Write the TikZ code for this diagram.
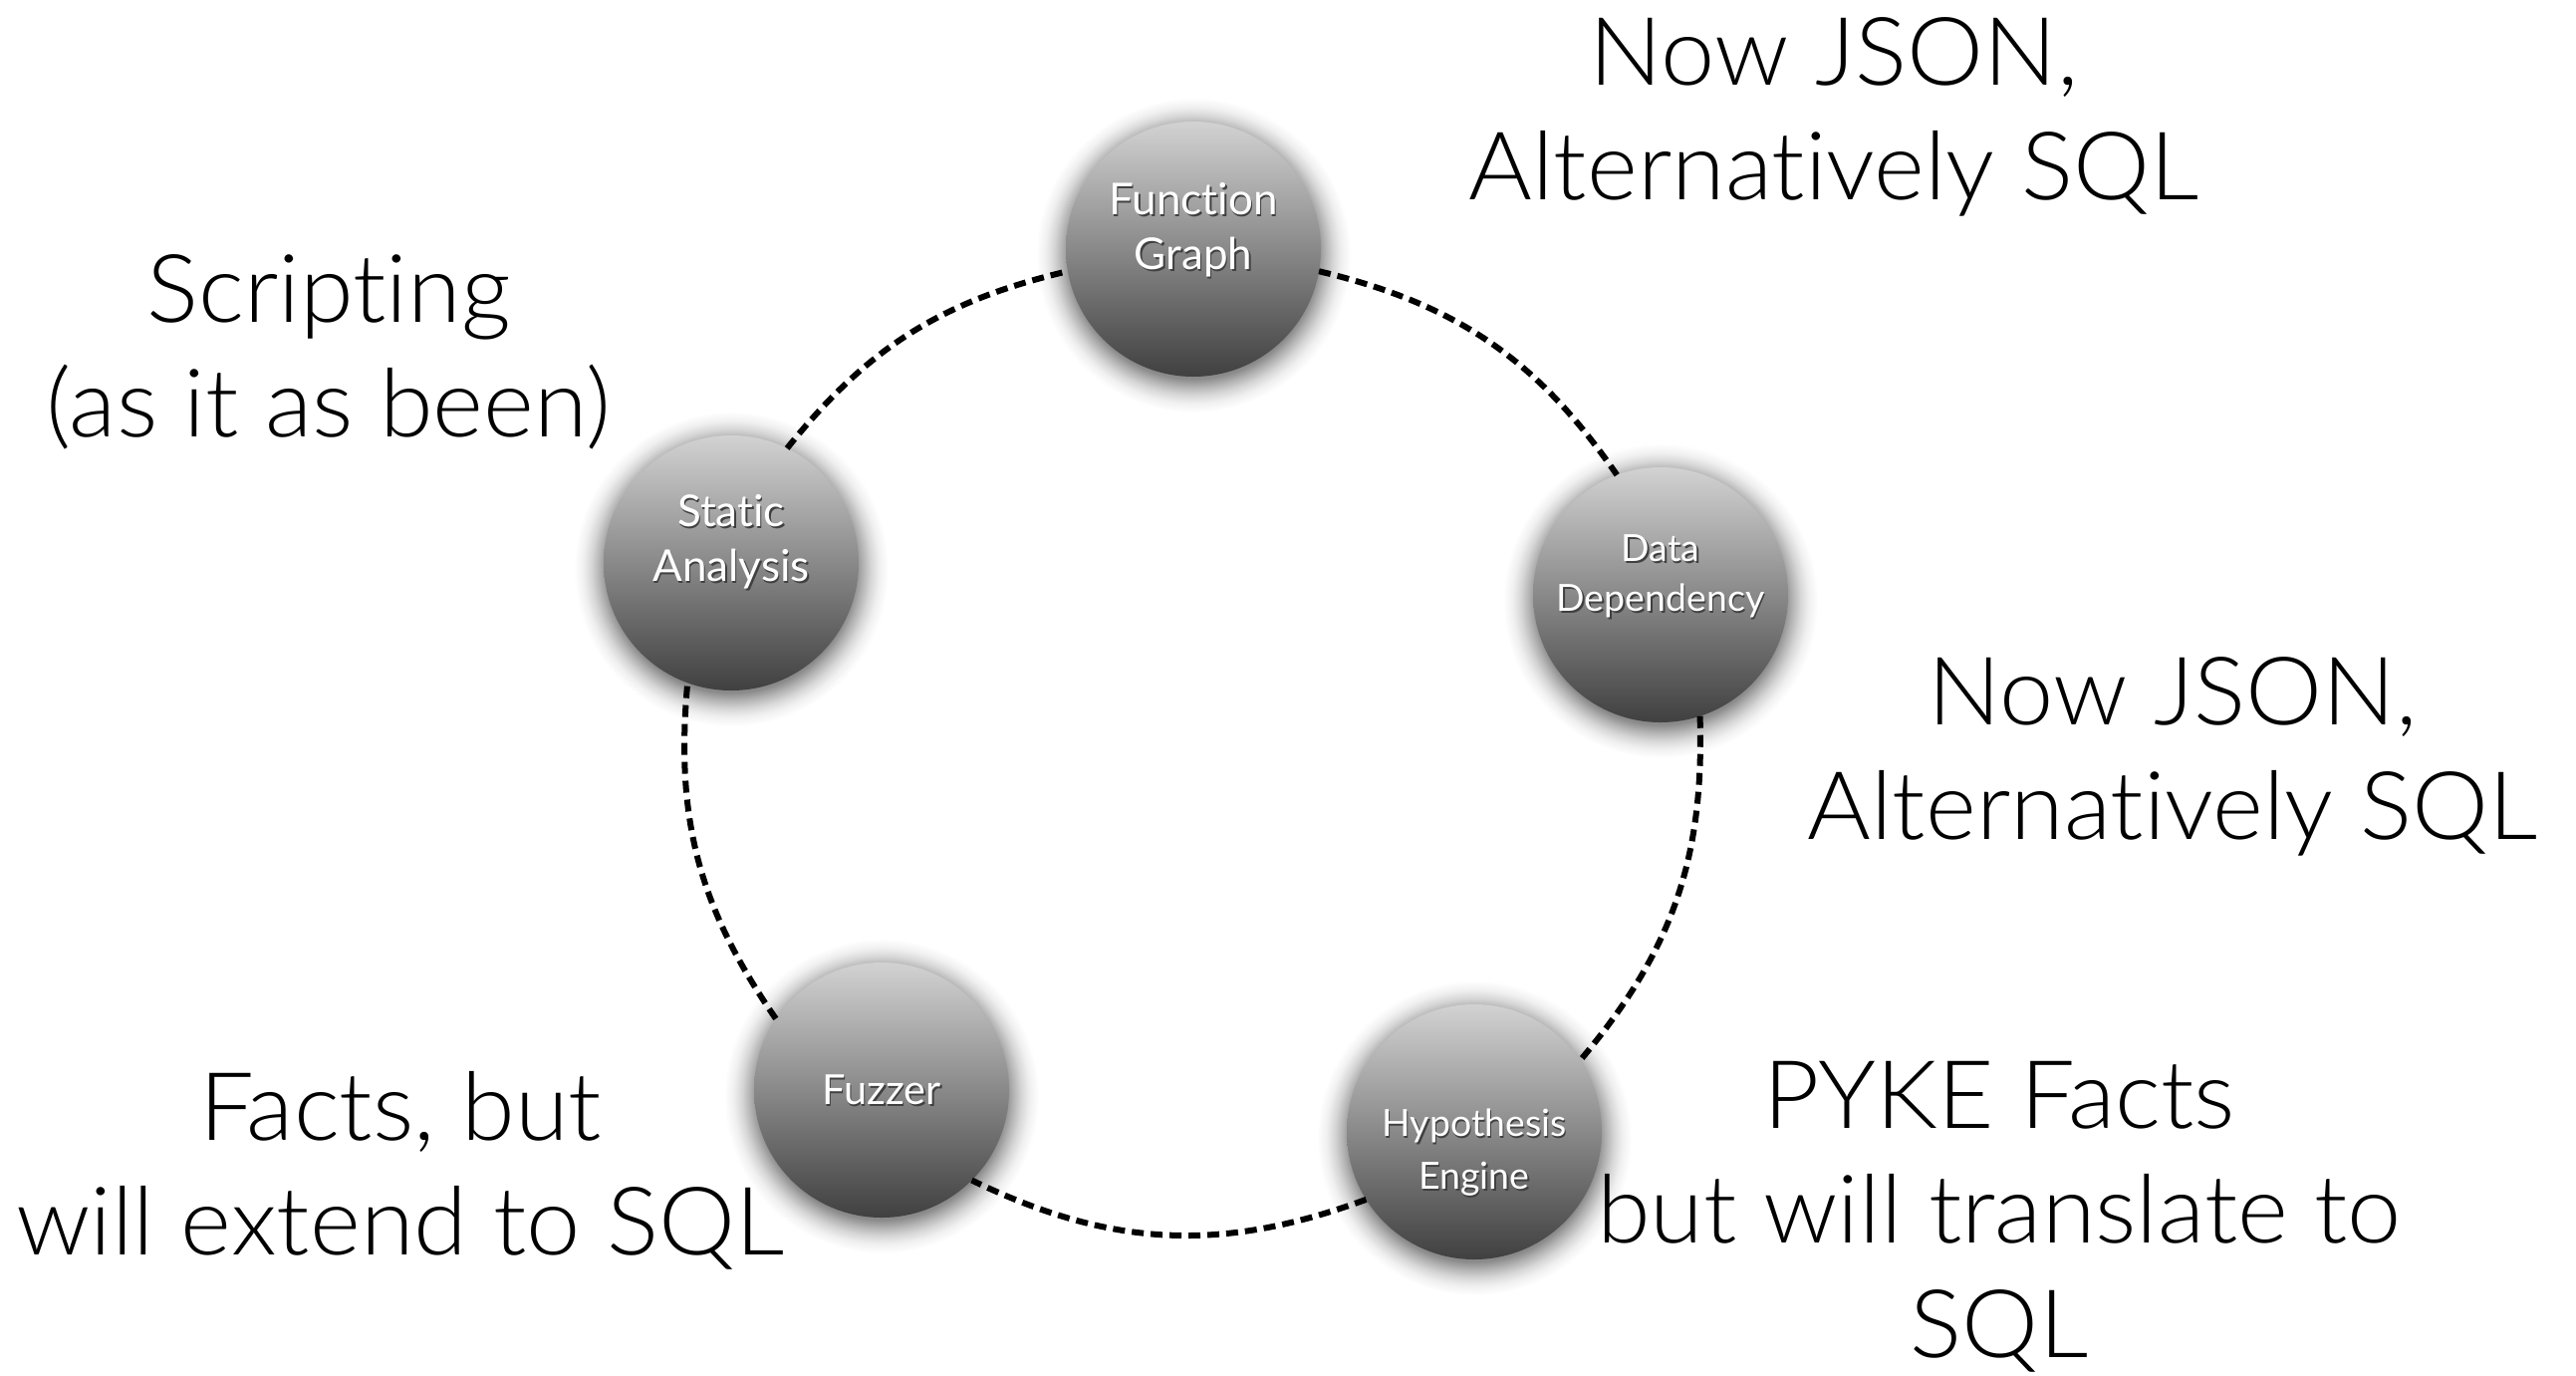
\documentclass[tikz,border=0pt]{standalone}
\usepackage{fontspec}
\setmainfont{Liberation Sans}
\newfontfamily\notefont{Lato Light}[Ligatures={NoCommon,NoRequired,NoContextual}, FakeStretch=1.025]
\newfontfamily\stagefont{Lato}[Ligatures={NoCommon,NoRequired,NoContextual}]

\definecolor{balltop}{RGB}{210,210,210}
\definecolor{ballbottom}{RGB}{64,64,64}

% soft shadow under each stage: dark core fading out to the white page
% (25bp is the rim of the shaded circle)
\colorlet{haloA}{black!46}
\colorlet{haloB}{black!30}
\colorlet{haloC}{black!16}
\colorlet{haloD}{black!6}
\colorlet{haloE}{white}
\pgfdeclareradialshading{halo}{\pgfpoint{0bp}{0bp}}{%
  color(0bp)=(haloA); color(19.6bp)=(haloA); color(20.9bp)=(haloB);
  color(22.2bp)=(haloC); color(23.5bp)=(haloD); color(25bp)=(haloE);
  color(50bp)=(haloE)}

% white lettering with a dark drop shadow
\newcommand\embossed[1]{\leavevmode\rlap{\kern0.6pt\raisebox{-0.8pt}{\textcolor{black!75}{#1}}}\textcolor{white}{#1}}

\tikzset{
  stage/.style={circle, minimum size=102.4pt, inner sep=0pt, outer sep=0pt,
    top color=balltop, bottom color=ballbottom},
  glow/.style={shading=halo},
  link/.style={line width=2.4pt, dash pattern=on 4.8pt off 2.8pt},
  note/.style={font=\notefont\fontsize{38}{46}\selectfont, align=center,
    anchor=base, inner sep=0pt},
  bigcap/.style={anchor=base, inner sep=0pt, font=\stagefont\fontsize{17.6}{22}\selectfont},
  smallcap/.style={anchor=base, inner sep=0pt, font=\stagefont\fontsize{15}{20}\selectfont},
  midcap/.style={anchor=base, inner sep=0pt, font=\stagefont\fontsize{16.6}{20}\selectfont}
}

\begin{document}
\begin{tikzpicture}[x=0.4pt, y=-0.4pt]
  \fill[white] (0,0) rectangle (2586,1380);
  \useasboundingbox (0,0) rectangle (2586,1380);

  % centres of the five stages
  \path (1198,250) coordinate (fgc) (1667,597) coordinate (ddc)
        (1480,1136) coordinate (hec) (885,1094) coordinate (fzc)
        (734,565) coordinate (sac);

  % shadows first, so the ring and the stages lie over them
  \foreach \c in {fgc,ddc,hec,fzc,sac}
    \shade[glow] ([yshift=-2.4pt]\c) circle (158);

  % the five stages of the cycle
  \node[stage] (fg) at (fgc) {};
  \node[stage] (dd) at (ddc) {};
  \node[stage] (he) at (hec) {};
  \node[stage] (fz) at (fzc) {};
  \node[stage] (sa) at (sac) {};

  % dashed ring joining the stages
  \draw[link] (sa.64)  to[bend left=19] (fg.190);
  \draw[link] (fg.350) to[bend left=21] (dd.110);
  \draw[link] (dd.288) to[bend left=21] (he.34);
  \draw[link] (he.212) to[bend left=23] (fz.315);
  \draw[link] (fz.146) to[bend left=20] (sa.250);

  % stage captions
  \node[bigcap] (fg1) at (1198,215) {\embossed{Function}};
  \node[bigcap] (fg2) at (1198,270) {\embossed{Graph}};
  \node[bigcap] (sa1) at (734,528) {\embossed{Static}};
  \node[bigcap] (sa2) at (734,583) {\embossed{Analysis}};
  \node[smallcap] (dd1) at (1667,563) {\embossed{Data}};
  \node[smallcap] (dd2) at (1667,613) {\embossed{Dependency}};
  \node[smallcap] (he1) at (1480,1140) {\embossed{Hypothesis}};
  \node[smallcap] (he2) at (1480,1193) {\embossed{Engine}};
  \node[midcap] (fz1) at (885,1108) {\embossed{Fuzzer}};

  % notes on the storage format of each stage (anchored on the last line)
  \node[note] (ntop) at (1841,200) {Now JSON,\\Alternatively SQL};
  \node[note] (nleft) at (330,438) {Scripting\\(as it as been)};
  \node[note] (nright) at (2181,842) {Now JSON,\\Alternatively SQL};
  \node[note] (nfz) at (402,1259) {Facts, but\\will extend to SQL};
  \node[note] (nhe) at (2007,1362) {PYKE Facts\\but will translate to\\SQL};
\end{tikzpicture}
\end{document}
